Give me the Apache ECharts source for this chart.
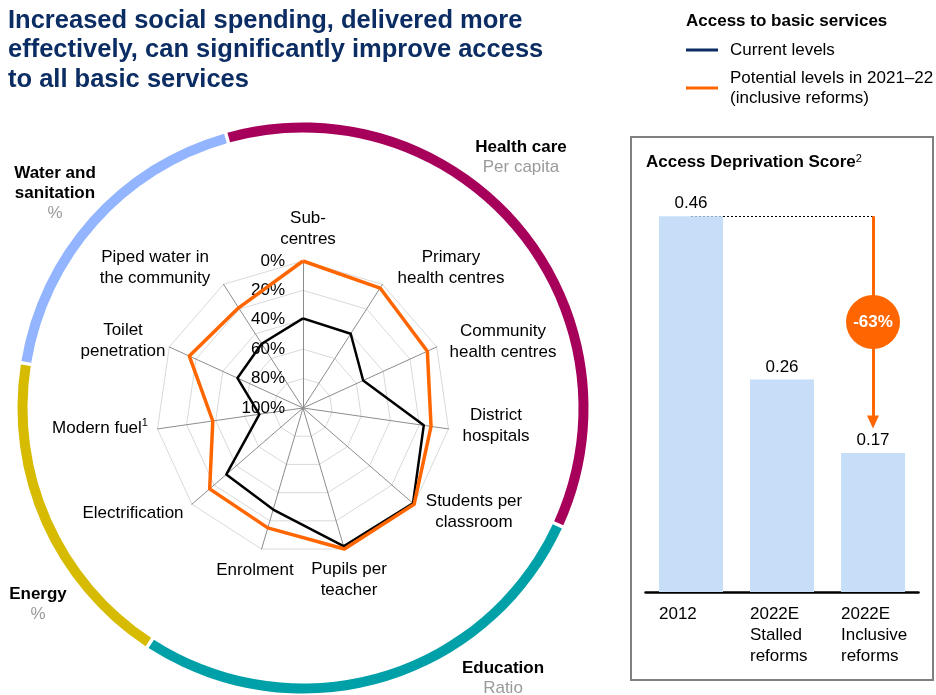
<!DOCTYPE html>
<html><head><meta charset="utf-8">
<script src="https://cdn.jsdelivr.net/npm/echarts@6/dist/echarts.min.js"></script>
<style>html,body{margin:0;padding:0;background:#fff}#c{width:936px;height:695px}</style>
</head><body><div id="c"></div>
<script>
// ---- data ----
const categories = ['Sub-\ncentres', 'Primary\nhealth centres', 'Community\nhealth centres', 'District\nhospitals',
  'Students per\nclassroom', 'Pupils per\nteacher', 'Enrolment', 'Electrification', 'Modern fuel{sup|1}',
  'Toilet\npenetration', 'Piped water in\nthe community'];
// readings on the radar scale (0% = outer ring, 100% = centre), clockwise from top
const currentLevels = [39, 40, 55, 17, 1, 2, 28, 31, 70, 51, 48];
const potentialLevels = [0, 3, 7, 12, 0, 0, 15, 16, 38, 15, 19];
const radarTicks = ['0%', '20%', '40%', '60%', '80%', '100%'];
const seriesNames = ['Current levels', 'Potential levels in 2021\u201322\n(inclusive reforms)'];
const groups = ['Health care', 'Education', 'Energy', 'Water and\nsanitation'];
const groupUnits = ['Per capita', 'Ratio', '%', '%'];
const groupSpans = [130.3, 98.5, 66, 65.2];   // degrees of the outer ring
const barCategories = ['2012', '2022E\nStalled\nreforms', '2022E\nInclusive\nreforms'];
const barValues = [0.46, 0.26, 0.17];
const changeLabel = '-63%';

// ---- layout / style ----
const NAVY = '#0C2D63', ORANGE = '#FF6600';
const ringColors = ['#A6005B', '#00A0A8', '#D6BB00', '#93B5FF'];
const CX = 303, CY = 408, R = 147;
const labelPos = [[308, 229], [451, 268], [503, 342], [496, 426], [474, 512], [349, 580], [255, 570],
  [133, 513], [100, 428], [123, 341], [155, 268]];
const groupPos = [[521, 157], [503, 678], [38, 604], [55, 193]];
const FONT = 'Liberation Sans, Arial, sans-serif';
const FS = 17;

// radar indicators in ECharts go counter-clockwise: reorder so the chart reads clockwise
const order = [0].concat(categories.map((_, i) => i).slice(1).reverse());
const toRadius = v => 100 - v;

const chart = echarts.init(document.getElementById('c'), null, {renderer: 'canvas'});

const graphics = [];
categories.forEach((c, i) => {
  const lines = c.split('\n').map(l => l.indexOf('{') >= 0 ? '{n|' + l.replace('{sup|1}', '') + '}{sup|1}' : '{n|' + l + '}');
  graphics.push({type: 'text', x: labelPos[i][0], y: labelPos[i][1], silent: true,
    style: {text: lines.join('\n'), align: 'center', verticalAlign: 'middle',
      rich: {n: {fontSize: FS, fontFamily: FONT, fill: '#000', lineHeight: 21, align: 'center'},
             sup: {fontSize: 11, fontFamily: FONT, fill: '#000', lineHeight: 21, verticalAlign: 'top', padding: [0, 0, 6, 0]}}}});
});
groups.forEach((g, i) => {
  const txt = g.split('\n').map(l => '{b|' + l + '}').join('\n') + '\n{u|' + groupUnits[i] + '}';
  graphics.push({type: 'text', x: groupPos[i][0], y: groupPos[i][1], silent: true,
    style: {text: txt, align: 'center', verticalAlign: 'middle',
      rich: {b: {fontSize: FS, fontWeight: 'bold', fontFamily: FONT, fill: '#000', lineHeight: 20, align: 'center'},
             u: {fontSize: FS, fontFamily: FONT, fill: '#9A9A9A', lineHeight: 20, align: 'center'}}}});
});
graphics.push({type: 'rect', shape: {x: 631, y: 137, width: 302, height: 543}, silent: true,
  style: {fill: 'none', stroke: '#808080', lineWidth: 2}});
graphics.push({type: 'text', x: 646, y: 162, silent: true,
  style: {text: '{t|Access Deprivation Score}{s|2}', verticalAlign: 'middle',
    rich: {t: {fontSize: FS, fontWeight: 'bold', fontFamily: FONT, fill: '#000'},
           s: {fontSize: 11, fontFamily: FONT, fill: '#000', verticalAlign: 'top', padding: [0, 0, 7, 0]}}}});

const option = {
  animation: false,
  textStyle: {fontFamily: FONT},
  title: [
    {text: 'Increased social spending, delivered more\neffectively, can significantly improve access\nto all basic services',
     left: 8, top: 6, padding: 0, textStyle: {fontSize: 25.5, fontWeight: 'bold', color: NAVY, lineHeight: 29.5, fontFamily: FONT}},
    {text: 'Access to basic services', left: 686, top: 11, padding: 0,
     textStyle: {fontSize: FS, fontWeight: 'bold', color: '#000', fontFamily: FONT, lineHeight: 20}}
  ],
  legend: {
    orient: 'vertical', left: 686, top: 40, padding: 0, itemGap: 8, itemWidth: 39, itemHeight: 3,
    icon: 'path://M0,0L32,0L32,3L0,3Z M39,0',
    textStyle: {fontSize: FS, color: '#000', lineHeight: 20, fontFamily: FONT},
    selectedMode: false,
    data: [{name: seriesNames[0], itemStyle: {color: NAVY}}, {name: seriesNames[1], itemStyle: {color: ORANGE}}]
  },
  radar: {
    center: [CX, CY], radius: R, startAngle: 90, splitNumber: 5, shape: 'polygon',
    indicator: order.map((idx, k) => Object.assign({name: categories[idx], min: 0, max: 100},
      k === 0 ? {axisLabel: {show: true}} : {})),
    axisName: {show: false},
    splitLine: {lineStyle: {color: '#D9D9D9', width: 1}},
    splitArea: {show: false},
    axisLine: {lineStyle: {color: '#8C8C8C', width: 1}},
    axisTick: {show: false},
    axisLabel: {show: false, fontSize: FS, color: '#000', margin: 18,
      formatter: v => radarTicks[Math.round((100 - v) / 20)]}
  },
  grid: {left: 645.5, width: 273, top: 183.5, height: 408.5},
  xAxis: {type: 'category', data: barCategories,
    axisLine: {lineStyle: {color: '#000', width: 2.5}}, axisTick: {show: false},
    axisLabel: {align: 'left', padding: [0, 0, 0, -32], margin: 12, fontSize: FS, lineHeight: 21,
      color: '#000', verticalAlign: 'top', interval: 0}},
  yAxis: {type: 'value', min: 0, max: 0.5, show: false},
  graphic: graphics,
  series: [
    {type: 'pie', center: [CX, CY], radius: [275.5, 285.5], startAngle: 105.7, padAngle: 0.7, silent: true,
     label: {show: false}, labelLine: {show: false}, z: 1,
     data: groups.map((g, i) => ({name: g, value: groupSpans[i], itemStyle: {color: ringColors[i]}}))},
    {type: 'radar', symbol: 'none', silent: true, z: 3,
     data: [
       {name: seriesNames[0], value: order.map(i => toRadius(currentLevels[i])),
        lineStyle: {color: '#000', width: 2.5}, itemStyle: {color: '#000'}},
       {name: seriesNames[1], value: order.map(i => toRadius(potentialLevels[i])),
        lineStyle: {color: ORANGE, width: 3.5}, itemStyle: {color: ORANGE}}
     ]},
    {type: 'bar', data: barValues, barWidth: 64, z: 2, silent: true,
     itemStyle: {color: '#C6DEF8'},
     label: {show: true, position: 'top', distance: 4, fontSize: FS, color: '#000', formatter: p => p.value.toFixed(2)},
     markLine: {silent: true, z: 1, symbol: 'none', label: {show: false},
       data: [
         [{coord: [barCategories[0], barValues[0]], lineStyle: {color: '#000', width: 1, type: [2, 2]}},
          {coord: [barCategories[2], barValues[0]]}],
         [{coord: [barCategories[2], barValues[0]], symbol: 'none', lineStyle: {color: ORANGE, width: 3, type: 'solid'}},
          {coord: [barCategories[2], 0.208], symbol: 'triangle', symbolSize: [12, 13]}]
       ]},
     markPoint: {silent: true, symbol: 'circle', symbolSize: 54,
       itemStyle: {color: ORANGE},
       label: {show: true, color: '#fff', fontSize: FS, fontWeight: 'bold', formatter: changeLabel},
       data: [{coord: [barCategories[2], 0.3305]}]}}
  ]
};
chart.setOption(option);
</script></body></html>
